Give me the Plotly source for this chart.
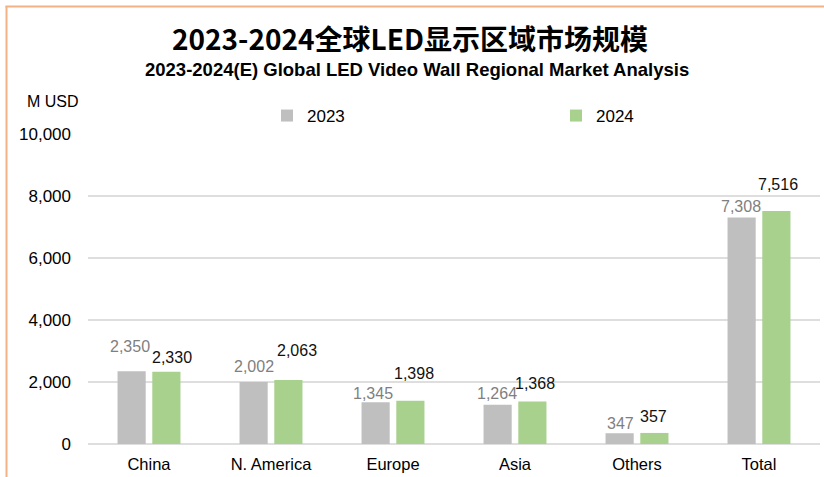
import plotly.graph_objects as go

categories = ["China", "N. America", "Europe", "Asia", "Others", "Total"]
values_2023 = [2350, 2002, 1345, 1264, 347, 7308]
values_2024 = [2330, 2063, 1398, 1368, 357, 7516]
series_names = ["2023", "2024"]
y_ticks = [0, 2000, 4000, 6000, 8000, 10000]

# label placement tweaks (pixels) to mimic the original's hand-placed labels
dx_2023 = [-19, -17, -20, -18, -17, -18]
dy_2023 = [25, 15, 9, 11, 10, 11]
dx_2024 = [23, 26, 21, 20, 16, 19]
dy_2024 = [14, 30, 27, 18, 16, 27]

W, H = 824, 477
L, R, T, B = 88, 4, 134, 33
PW, PH = W - L - R, H - T - B

GRAY = "#BFBFBF"
GREEN = "#A9D18E"
FONT = "Liberation Sans, Arial, sans-serif"

def px_to_paper_x(px):
    return (px - L) / PW

def py_to_paper_y(py):
    return (H - B - py) / PH

fig = go.Figure()
fig.add_trace(go.Bar(name=series_names[0], x=categories, y=values_2023,
                     marker=dict(color=GRAY, line=dict(width=0))))
fig.add_trace(go.Bar(name=series_names[1], x=categories, y=values_2024,
                     marker=dict(color=GREEN, line=dict(width=0))))

annotations = []
for i, c in enumerate(categories):
    annotations.append(dict(x=c, y=values_2023[i], xref="x", yref="y",
                            text=f"{values_2023[i]:,}", showarrow=False,
                            xshift=dx_2023[i], yshift=dy_2023[i], yanchor="middle",
                            font=dict(family=FONT, size=16, color="#7F7F7F")))
    annotations.append(dict(x=c, y=values_2024[i], xref="x", yref="y",
                            text=f"{values_2024[i]:,}", showarrow=False,
                            xshift=dx_2024[i], yshift=dy_2024[i], yanchor="middle",
                            font=dict(family=FONT, size=16, color="#111111")))

annotations.append(dict(x=px_to_paper_x(410), y=py_to_paper_y(38), xref="paper", yref="paper",
                        text="<b>2023-2024全球LED显示区域市场规模</b>", showarrow=False,
                        xanchor="center", yanchor="middle",
                        font=dict(family="Noto Sans CJK SC, Liberation Sans, sans-serif", size=28, color="#000000")))
annotations.append(dict(x=px_to_paper_x(417), y=py_to_paper_y(70), xref="paper", yref="paper",
                        text="<b>2023-2024(E) Global LED Video Wall Regional Market Analysis</b>",
                        showarrow=False, xanchor="center", yanchor="middle",
                        font=dict(family=FONT, size=18.5, color="#000000")))
annotations.append(dict(x=px_to_paper_x(25), y=py_to_paper_y(101), xref="paper", yref="paper",
                        text="M USD", showarrow=False, xanchor="left", yanchor="middle",
                        font=dict(family=FONT, size=16, color="#000000")))

shapes = [
    dict(type="line", xref="paper", yref="paper",
         x0=px_to_paper_x(6.5), x1=px_to_paper_x(6.5), y0=py_to_paper_y(6), y1=py_to_paper_y(H),
         line=dict(color="#F4B183", width=2)),
    dict(type="line", xref="paper", yref="paper",
         x0=px_to_paper_x(5.5), x1=px_to_paper_x(W), y0=py_to_paper_y(6.5), y1=py_to_paper_y(6.5),
         line=dict(color="#F4B183", width=2)),
]

fig.update_layout(
    width=W, height=H,
    margin=dict(l=L, r=R, t=T, b=B, autoexpand=False),
    paper_bgcolor="white", plot_bgcolor="white",
    barmode="group", bargap=0.43, bargroupgap=0.19,
    font=dict(family=FONT, size=16, color="#000000"),
    showlegend=True,
    legend=dict(orientation="h", x=px_to_paper_x(267), xanchor="left",
                y=py_to_paper_y(116), yanchor="middle",
                entrywidth=244, entrywidthmode="pixels",
                font=dict(family=FONT, size=17, color="#000000"),
                bgcolor="rgba(0,0,0,0)"),
    annotations=annotations,
    shapes=shapes,
    xaxis=dict(type="category", showgrid=False, showline=False, ticks="",
               tickfont=dict(family=FONT, size=16.5, color="#000000"),
               ticklabelstandoff=8),
    yaxis=dict(range=[0, 10000], tickvals=y_ticks, tickformat=",",
               showgrid=True, gridcolor="#DEDEDE", gridwidth=1.5,
               zeroline=True, zerolinecolor="#DEDEDE", zerolinewidth=1.5,
               showline=False, ticks="",
               tickfont=dict(family=FONT, size=17, color="#000000"),
               ticklabelstandoff=16),
)

fig.write_html("out.html", config={"displayModeBar": False},
               post_script="document.body.style.margin='0';")
